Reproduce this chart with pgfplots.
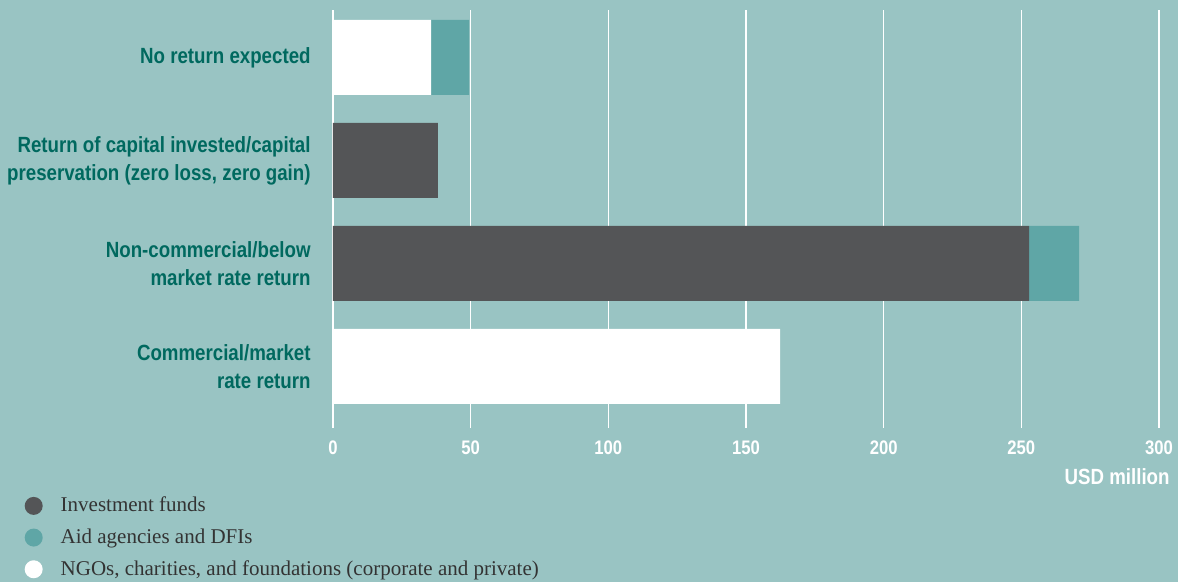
\documentclass[border=0pt]{standalone}
\usepackage{pgfplots}
\pgfplotsset{compat=1.18}
\usepackage{fontspec}
\setmainfont{Liberation Serif}
\newfontfamily\condb[FakeStretch=0.85]{Liberation Sans}
\definecolor{bg}{HTML}{99C4C3}
\definecolor{darkbar}{HTML}{545557}
\definecolor{tealbar}{HTML}{5FA6A6}
\definecolor{labgreen}{HTML}{00695F}
\definecolor{legtext}{HTML}{333333}
\begin{document}
\begin{tikzpicture}
\path[use as bounding box, fill=bg] (0,0) rectangle (589pt,291pt);
\begin{axis}[
  at={(166.5pt,77pt)}, anchor=south west,
  scale only axis, width=413pt, height=209pt,
  xbar stacked, bar width=37.5pt,
  xmin=0, xmax=300, ymin=-0.597, ymax=3.461,
  xtick={0,50,...,300}, ytick={0,1,2,3},
  yticklabels={{Commercial/market\\rate return},{Non-commercial/below\\market rate return},{Return of capital invested/capital\\preservation (zero loss, zero gain)},{No return expected}},
  axis line style={draw=none}, major tick length=0pt,
  xmajorgrids, major grid style={white, line width=0.75pt},
  /pgf/number format/assume math mode=true,
  xticklabel style={font=\condb\bfseries\fontsize{9.8}{10}\selectfont, text=white, anchor=north, yshift=-3pt},
  yticklabel style={font=\condb\bfseries\fontsize{11}{14}\selectfont, text=labgreen, align=right, anchor=east, inner sep=0pt, xshift=-11pt},
  xlabel={USD million},
  xlabel style={at={(axis description cs:1,0)}, anchor=north east, inner sep=0pt, xshift=5.5pt, yshift=-20pt,
    font=\condb\bfseries\fontsize{11}{12}\selectfont, text=white},
  legend image code/.code={\path[#1] (4.5pt,0pt) circle (4.5pt);},
  legend cell align=left,
  legend style={at={(axis description cs:-0.381,-0.145)}, anchor=north west, draw=none, fill=none,
    font=\fontsize{10.5}{12}\selectfont\color{legtext}, row sep=3pt,
    /tikz/every odd column/.append style={column sep=7pt}},
]
\addlegendimage{fill=darkbar, draw=none}
\addlegendentry{Investment funds}
\addlegendimage{fill=tealbar, draw=none}
\addlegendentry{Aid agencies and DFIs}
\addlegendimage{fill=white, draw=none}
\addlegendentry{NGOs, charities, and foundations (corporate and private)}
\addplot[forget plot, fill=darkbar, draw=none] coordinates {(0,0) (252.8,1) (38.1,2) (0,3)};
\addplot[forget plot, fill=white, draw=none] coordinates {(162.4,0) (0,1) (0,2) (35.6,3)};
\addplot[forget plot, fill=tealbar, draw=none] coordinates {(0,0) (18.2,1) (0,2) (13.8,3)};
\end{axis}
\end{tikzpicture}
\end{document}
